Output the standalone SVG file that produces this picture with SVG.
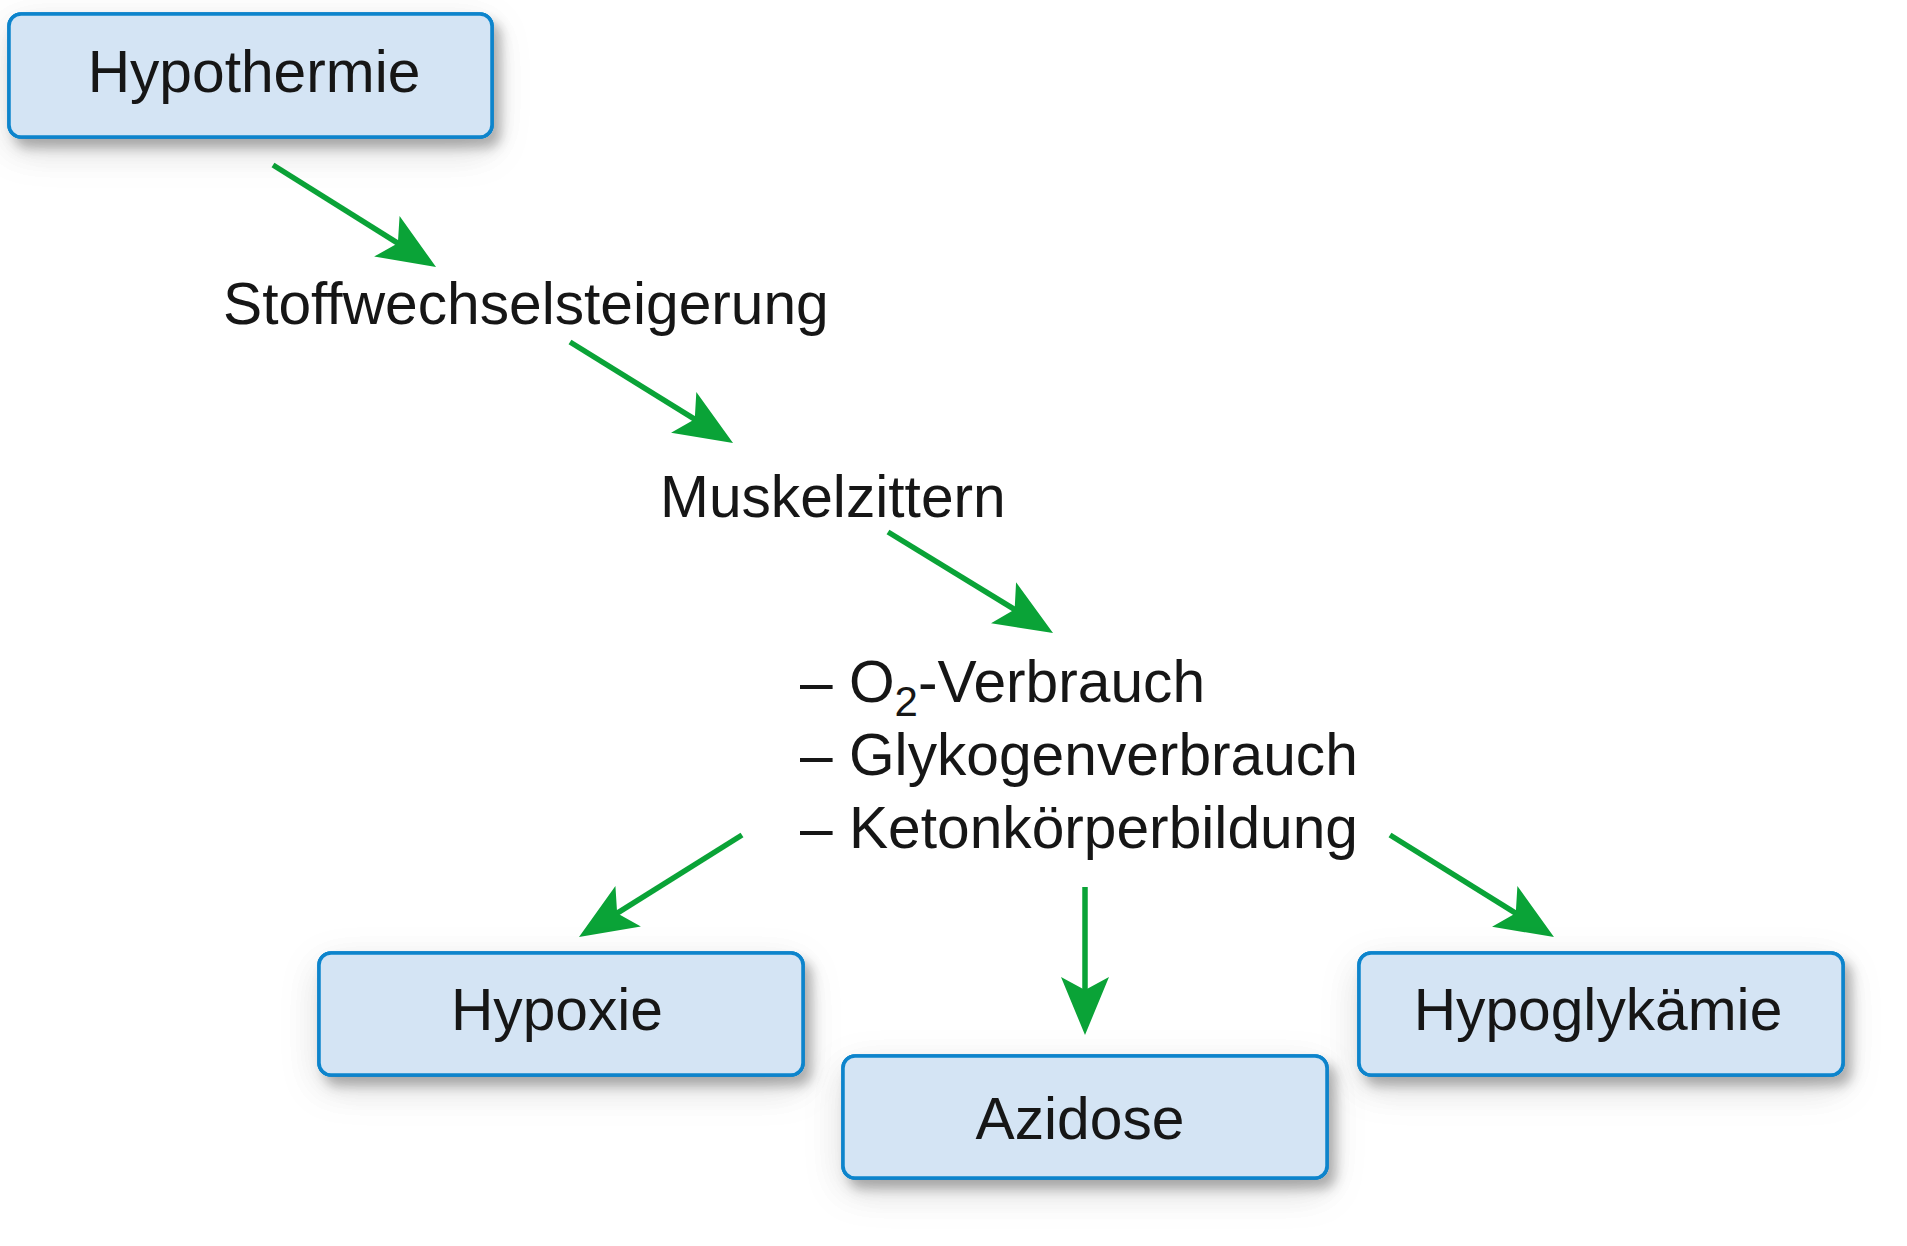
<svg xmlns="http://www.w3.org/2000/svg" width="1907" height="1246" viewBox="0 0 1907 1246">
  <style>
    .box { fill: #d4e4f4; stroke: #0a84cc; stroke-width: 3.5; filter: url(#shadow); }
    .lbl { font-family: "Liberation Sans", Arial, sans-serif; font-size: 58.7px; fill: #161616; }
    .mid { text-anchor: middle; }
    .conn { stroke: #0aa337; stroke-width: 5.5; fill: none; marker-end: url(#head); }
  </style>
  <defs>
    <filter id="shadow" x="-20%" y="-40%" width="140%" height="190%">
      <feDropShadow dx="0" dy="12" stdDeviation="20" flood-color="#000" flood-opacity="0.07" result="wide"/>
      <feDropShadow dx="7" dy="9" stdDeviation="6" flood-color="#000" flood-opacity="0.28"/>
      <feMerge>
        <feMergeNode in="wide"/>
        <feMergeNode/>
      </feMerge>
    </filter>
    <marker id="head" viewBox="0 0 58 48" refX="18" refY="24" markerWidth="58" markerHeight="48" markerUnits="userSpaceOnUse" orient="auto" overflow="visible">
      <path d="M58,24 L0,0 L13,24 L0,48 Z" fill="#0aa337"/>
    </marker>
  </defs>
  <rect width="1907" height="1246" fill="#ffffff"/>

  <g id="connectors">
    <line class="conn" x1="273" y1="165" x2="402.1" y2="245.8"/>
    <line class="conn" x1="570" y1="342" x2="699.0" y2="421.9"/>
    <line class="conn" x1="888" y1="532" x2="1018.9" y2="612.1"/>
    <line class="conn" x1="742" y1="835" x2="612.9" y2="915.8"/>
    <line class="conn" x1="1085" y1="887" x2="1085" y2="995"/>
    <line class="conn" x1="1390" y1="835" x2="1520.0" y2="915.9"/>
  </g>

  <g id="hypothermie">
    <rect class="box" x="9" y="14" width="483" height="123" rx="12"/>
    <text class="lbl mid" x="254" y="92">Hypothermie</text>
  </g>

  <g id="stoffwechselsteigerung">
    <text class="lbl" x="223" y="324">Stoffwechselsteigerung</text>
  </g>

  <g id="muskelzittern">
    <text class="lbl" x="660" y="517">Muskelzittern</text>
  </g>

  <g id="folgen">
    <text class="lbl" x="800" y="702">– O<tspan font-size="42" dy="14">2</tspan><tspan dy="-14">-Verbrauch</tspan></text>
    <text class="lbl" x="800" y="775">– Glykogenverbrauch</text>
    <text class="lbl" x="800" y="848">– Ketonkörperbildung</text>
  </g>

  <g id="hypoxie">
    <rect class="box" x="319" y="953" width="484" height="122" rx="12"/>
    <text class="lbl mid" x="557" y="1030">Hypoxie</text>
  </g>

  <g id="azidose">
    <rect class="box" x="843" y="1056" width="484" height="122" rx="12"/>
    <text class="lbl mid" x="1080" y="1139">Azidose</text>
  </g>

  <g id="hypoglykaemie">
    <rect class="box" x="1359" y="953" width="484" height="122" rx="12"/>
    <text class="lbl mid" x="1598" y="1030">Hypoglykämie</text>
  </g>
</svg>
